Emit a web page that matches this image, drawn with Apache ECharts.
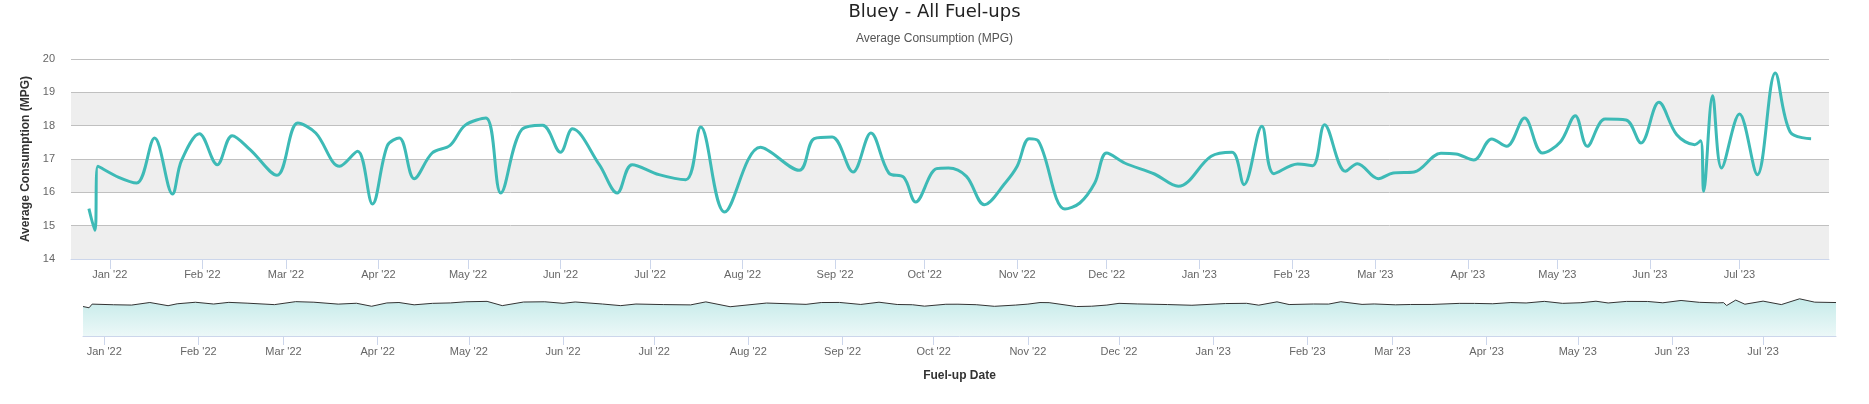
<!DOCTYPE html>
<html>
<head>
<meta charset="utf-8">
<title>Bluey - All Fuel-ups</title>
<script src="https://cdn.jsdelivr.net/npm/echarts@6/dist/echarts.min.js"></script>
<style>
  html, body { margin: 0; padding: 0; background: #fff; }
  #chart { width: 1869px; height: 404px; }
</style>
</head>
<body>
<div id="chart"></div>
<script>
// fuel-up dates and average consumption (MPG)
const fuelDates = [
  '2021-12-25', '2021-12-27', '2021-12-28', '2022-01-04', '2022-01-10', '2022-01-16', '2022-01-22', '2022-01-25',
  '2022-01-31', '2022-02-06', '2022-02-11', '2022-02-17', '2022-02-26', '2022-03-05', '2022-03-11', '2022-03-19',
  '2022-03-25', '2022-03-30', '2022-04-04', '2022-04-08', '2022-04-13', '2022-04-19', '2022-04-25', '2022-04-30',
  '2022-05-07', '2022-05-12', '2022-05-19', '2022-05-26', '2022-06-01', '2022-06-05', '2022-06-14', '2022-06-20',
  '2022-06-25', '2022-07-04', '2022-07-13', '2022-07-18', '2022-07-26', '2022-08-07', '2022-08-20', '2022-08-25',
  '2022-08-31', '2022-09-07', '2022-09-13', '2022-09-19', '2022-09-24', '2022-09-28', '2022-10-05', '2022-10-09',
  '2022-10-15', '2022-10-21', '2022-10-28', '2022-11-01', '2022-11-05', '2022-11-08', '2022-11-17', '2022-11-22',
  '2022-11-27', '2022-12-01', '2022-12-07', '2022-12-17', '2022-12-25', '2023-01-05', '2023-01-12', '2023-01-16',
  '2023-01-22', '2023-01-26', '2023-02-03', '2023-02-08', '2023-02-12', '2023-02-19', '2023-02-23', '2023-03-02',
  '2023-03-07', '2023-03-14', '2023-03-23', '2023-03-28', '2023-04-03', '2023-04-09', '2023-04-14', '2023-04-20',
  '2023-04-26', '2023-05-02', '2023-05-07', '2023-05-11', '2023-05-17', '2023-05-24', '2023-05-29', '2023-06-04',
  '2023-06-10', '2023-06-16', '2023-06-18', '2023-06-19', '2023-06-22', '2023-06-25', '2023-07-01', '2023-07-07',
  '2023-07-13', '2023-07-18', '2023-07-25'
]
const mpgValues = [
  15.51, 14.86, 16.78, 16.45, 16.28, 17.63, 15.95, 16.95,
  17.76, 16.83, 17.70, 17.28, 16.51, 18.08, 17.78, 16.78,
  17.23, 15.65, 17.40, 17.63, 16.41, 17.18, 17.41, 18.01,
  18.23, 15.98, 17.88, 18.01, 17.20, 17.91, 16.83, 15.98,
  16.83, 16.53, 16.38, 17.96, 15.41, 17.35, 16.66, 17.61,
  17.66, 16.61, 17.78, 16.58, 16.45, 15.71, 16.71, 16.73,
  16.48, 15.63, 16.28, 16.78, 17.61, 17.55, 15.50, 15.68,
  16.28, 17.18, 16.88, 16.55, 16.18, 17.08, 17.20, 16.23,
  17.98, 16.56, 16.85, 16.80, 18.03, 16.63, 16.86, 16.41,
  16.58, 16.61, 17.17, 17.15, 16.97, 17.60, 17.38, 18.23,
  17.18, 17.51, 18.30, 17.38, 18.20, 18.17, 17.48, 18.70,
  17.73, 17.43, 17.55, 16.03, 18.90, 16.73, 18.35, 16.53,
  19.58, 17.81, 17.61
]
const monthNames = ['Jan', 'Feb', 'Mar', 'Apr', 'May', 'Jun', 'Jul', 'Aug', 'Sep', 'Oct', 'Nov', 'Dec']

const FONT = '"Liberation Sans", Arial, sans-serif'
const DAY = 24 * 3600 * 1000
const points = fuelDates.map((d, i) => [d, mpgValues[i]])

function monthLabel(value) {
  const d = new Date(value)
  return monthNames[d.getMonth()] + " '" + String(d.getFullYear()).slice(2)
}

const chart = echarts.init(document.getElementById('chart'))

const option = {
  animation: false,
  backgroundColor: '#fff',
  textStyle: { fontFamily: FONT },
  title: [
    {
      text: 'Bluey - All Fuel-ups',
      left: 'center',
      top: -2,
      textStyle: { color: '#222', fontSize: 18, fontWeight: 'normal', fontFamily: '"DejaVu Sans", sans-serif' }
    },
    {
      text: 'Average Consumption (MPG)',
      left: 'center',
      top: 28,
      textStyle: { color: '#555', fontSize: 12, fontWeight: 'normal', fontFamily: FONT }
    }
  ],
  grid: [
    { left: 71, right: 40, top: 59, height: 200 },
    { left: 83, right: 33, top: 298, height: 38 }
  ],
  xAxis: [
    {
      type: 'time',
      gridIndex: 0,
      min: '2021-12-19',
      max: '2023-07-31',
      minInterval: 28 * DAY,
      maxInterval: 31 * DAY,
      axisLine: { lineStyle: { color: '#ccd6eb' } },
      axisTick: { show: true, length: 10, lineStyle: { color: '#ccd6eb' } },
      axisLabel: {
        color: '#666', fontSize: 11, margin: 10,
        showMinLabel: false, showMaxLabel: false,
        formatter: monthLabel
      },
      splitLine: { show: false }
    },
    {
      type: 'time',
      gridIndex: 1,
      min: fuelDates[0],
      max: fuelDates[fuelDates.length - 1],
      minInterval: 28 * DAY,
      maxInterval: 31 * DAY,
      name: 'Fuel-up Date',
      nameLocation: 'middle',
      nameGap: 34,
      nameTextStyle: { color: '#333', fontSize: 12, fontWeight: 'bold' },
      axisLine: { lineStyle: { color: '#ccd6eb' } },
      axisTick: { show: true, length: 9, lineStyle: { color: '#ccd6eb' } },
      axisLabel: {
        color: '#666', fontSize: 11, margin: 10,
        showMinLabel: false, showMaxLabel: false,
        formatter: monthLabel
      },
      splitLine: { show: false }
    }
  ],
  yAxis: [
    {
      type: 'value',
      gridIndex: 0,
      min: 14,
      max: 20,
      interval: 1,
      name: 'Average Consumption (MPG)',
      nameLocation: 'middle',
      nameGap: 38,
      nameTextStyle: { color: '#333', fontSize: 12, fontWeight: 'bold' },
      axisLine: { show: false },
      axisTick: { show: false },
      axisLabel: { color: '#666', fontSize: 11, margin: 16 },
      splitLine: { lineStyle: { color: '#c0c0c0', width: 1 } },
      splitArea: { show: true, areaStyle: { color: ['#eeeeee', '#ffffff'] } }
    },
    {
      type: 'value',
      gridIndex: 1,
      min: 0,
      max: 20,
      show: false,
      splitLine: { show: false }
    }
  ],
  series: [
    {
      name: 'Average Consumption',
      type: 'line',
      xAxisIndex: 0,
      yAxisIndex: 0,
      data: points,
      smooth: 0.35,
      symbol: 'none',
      lineStyle: { color: '#3dbab6', width: 3 },
      itemStyle: { color: '#3dbab6' }
    },
    {
      name: 'Navigator',
      type: 'line',
      xAxisIndex: 1,
      yAxisIndex: 1,
      data: points,
      symbol: 'none',
      lineStyle: { color: '#333', width: 1 },
      areaStyle: {
        color: new echarts.graphic.LinearGradient(0, 0, 0, 1, [
          { offset: 0, color: 'rgba(61, 186, 182, 0.42)' },
          { offset: 1, color: 'rgba(61, 186, 182, 0.14)' }
        ])
      }
    }
  ]
}

chart.setOption(option)
</script>
</body>
</html>
